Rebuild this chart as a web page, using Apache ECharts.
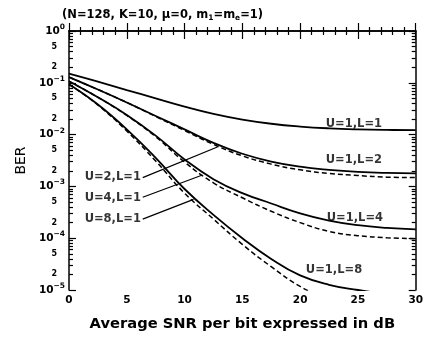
<!DOCTYPE html>
<html><head><meta charset="utf-8">
<script src="https://cdn.jsdelivr.net/npm/echarts@6/dist/echarts.min.js"></script>
<style>html,body{margin:0;padding:0;background:#fff}#c{width:426px;height:337px}</style>
</head><body><div id="c"></div>
<script>
// SNR per bit (dB)
var snr = [0, 2.5, 5, 7.5, 10, 12.5, 15, 17.5, 20, 22.5, 25, 27.5, 30];
// BER values
var berL1 = [1.51e-1, 1.05e-1, 7.24e-2, 5.01e-2, 3.47e-2, 2.51e-2, 1.95e-2, 1.62e-2, 1.43e-2, 1.32e-2, 1.26e-2, 1.23e-2, 1.22e-2];
var berL2 = [1.29e-1, 7.41e-2, 4.17e-2, 2.29e-2, 1.26e-2, 6.92e-3, 4.27e-3, 3.02e-3, 2.40e-3, 2.09e-3, 1.91e-3, 1.82e-3, 1.78e-3];
var berL2d = [1.29e-1, 7.41e-2, 4.17e-2, 2.24e-2, 1.20e-2, 6.46e-3, 3.89e-3, 2.69e-3, 2.09e-3, 1.78e-3, 1.62e-3, 1.51e-3, 1.48e-3];
var berL4 = [1.07e-1, 5.25e-2, 2.40e-2, 9.55e-3, 3.31e-3, 1.38e-3, 7.41e-4, 4.68e-4, 3.02e-4, 2.19e-4, 1.78e-4, 1.58e-4, 1.48e-4];
var berL4d = [1.07e-1, 5.25e-2, 2.34e-2, 9.12e-3, 2.95e-3, 1.17e-3, 6.03e-4, 3.31e-4, 2.00e-4, 1.35e-4, 1.12e-4, 1.02e-4, 9.77e-5];
var berL8 = [9.33e-2, 3.80e-2, 1.26e-2, 3.55e-3, 8.91e-4, 2.82e-4, 1.0e-4, 3.98e-5, 1.91e-5, 1.26e-5, 1.0e-5, 8.3e-6];
var berL8d = [9.33e-2, 3.72e-2, 1.17e-2, 3.09e-3, 7.41e-4, 2.34e-4, 7.59e-5, 2.82e-5, 1.17e-5, 6.3e-6];
// curve labels: [snr dB, BER, text]
var curveLabels = [
  [24.65, 1.63e-2, 'U=1,L=1'],
  [24.65, 3.24e-3, 'U=1,L=2'],
  [24.74, 2.45e-4, 'U=1,L=4'],
  [22.93, 2.40e-5, 'U=1,L=8'],
  [3.79, 1.55e-3, 'U=2,L=1'],
  [3.79, 5.9e-4, 'U=4,L=1'],
  [3.79, 2.35e-4, 'U=8,L=1']
];
// leader lines: [[snr0, ber0], [snr1, ber1]]
var leaders = [
  [[6.38, 1.48e-3], [12.84, 5.75e-3]],
  [[6.38, 6.17e-4], [11.55, 1.66e-3]],
  [[6.38, 2.34e-4], [10.78, 5.62e-4]]
];
var decades = [-5, -4, -3, -2, -1, 0];

function lg(v) { return Math.log10(v); }
function pairs(xs, ys) { return ys.map(function (y, i) { return [xs[i], lg(y)]; }); }
var minorTicks = [], minorLabels = [];
for (var d = -5; d < 0; d++) {
  for (var k = 2; k <= 9; k++) minorTicks.push(d + Math.log10(k));
  minorLabels.push(d + Math.log10(2), d + Math.log10(5));
}
var FONT = 'DejaVu Sans';
function yAx(pos, major, showLabel, showLine) {
  return {
    type: 'value', min: -5, max: 0, position: pos,
    axisLine: { show: showLine, lineStyle: { color: '#000', width: 1.5 } },
    splitLine: { show: false },
    axisTick: { show: true, inside: true, length: major ? 7 : 4, customValues: major ? decades : minorTicks,
      lineStyle: { color: '#000', width: 1.2 } },
    axisLabel: { show: showLabel, customValues: major ? decades : minorLabels,
      margin: major ? 4 : 12, color: '#000', fontFamily: FONT, fontWeight: 'bold',
      fontSize: major ? 10.5 : 8,
      formatter: major ? function (v) { return '10{sup|' + (Math.round(v) === 0 ? '0' : ('\u2212' + Math.abs(Math.round(v)))) + '}'; }
                       : function (v) { return String(Math.round(Math.pow(10, v - Math.floor(v + 1e-9)))); },
      rich: { sup: { fontSize: 7.5, fontWeight: 'bold', fontFamily: FONT, verticalAlign: 'top', padding: [0, 0, 8, 0], color: '#000' } }
    }
  };
}
var solid = { color: '#000', width: 1.8, type: 'solid' };
var dashed = { color: '#000', width: 1.5, type: [5, 3] };
function line(data, style) {
  return { type: 'line', data: data, showSymbol: false, symbol: 'none', smooth: 0.45, clip: true,
    lineStyle: style, xAxisIndex: 0, yAxisIndex: 0, z: 3, silent: true };
}
var series = [
  line(pairs(snr, berL1), solid),
  line(pairs(snr, berL2d), dashed),
  line(pairs(snr, berL2), solid),
  line(pairs(snr, berL4d), dashed),
  line(pairs(snr, berL4), solid),
  line(pairs(snr, berL8d), dashed),
  line(pairs(snr, berL8), solid)
];
leaders.forEach(function (l) {
  series.push({ type: 'line', data: [[l[0][0], lg(l[0][1])], [l[1][0], lg(l[1][1])]], showSymbol: false, symbol: 'none',
    lineStyle: { color: '#000', width: 1.2 }, z: 3, silent: true });
});
series.push({ type: 'scatter', symbolSize: 0, z: 5, silent: true,
  data: curveLabels.map(function (c) { return [c[0], lg(c[1]), c[2]]; }),
  label: { show: true, position: 'inside', color: '#000', fontFamily: FONT, fontWeight: 'bold', fontSize: 11.5,
    formatter: function (p) { return p.data[2]; } } });

var chart = echarts.init(document.getElementById('c'), null, { renderer: 'canvas' });
var xAx = function (pos, showLabel) {
  return { type: 'value', min: 0, max: 30, interval: 5, position: pos,
    axisLine: { show: true, lineStyle: { color: '#000', width: 1.5 } },
    splitLine: { show: false },
    axisTick: { show: true, inside: true, length: 8, lineStyle: { color: '#000', width: 1.2 } },
    minorTick: { show: true, splitNumber: 5, length: 4, lineStyle: { color: '#000', width: 1.2 } },
    axisLabel: { show: showLabel, margin: 5, color: '#000', fontFamily: FONT, fontWeight: 'bold', fontSize: 10.5 }
  };
};
var xb = xAx('bottom', true);
xb.name = 'Average SNR per bit expressed in dB';
xb.nameLocation = 'middle'; xb.nameGap = 27;
xb.nameTextStyle = { color: '#000', fontFamily: FONT, fontWeight: 'bold', fontSize: 14.7 };
var y0 = yAx('left', true, true, true);
y0.name = 'BER'; y0.nameLocation = 'middle'; y0.nameGap = 41; y0.nameRotate = 90;
y0.nameTextStyle = { color: '#000', fontFamily: FONT, fontSize: 14 };
chart.setOption({
  animation: false,
  backgroundColor: '#fff',
  title: { text: '(N=128, K=10, \u03bc=0, m{sub|1}=m{sub|e}=1)', left: 57, top: 3,
    textStyle: { color: '#000', fontFamily: FONT, fontWeight: 'bold', fontSize: 11.5,
      rich: { sub: { fontSize: 7.5, fontWeight: 'bold', fontFamily: FONT, verticalAlign: 'bottom', padding: [6, 0, 0, 0], color: '#000' } } } },
  grid: { left: 69, right: 9, top: 31, bottom: 43, containLabel: false },
  xAxis: [xb, xAx('top', false)],
  yAxis: [y0, yAx('left', false, true, false), yAx('right', true, false, true), yAx('right', false, false, false)],
  series: series
});
</script>
</body></html>
